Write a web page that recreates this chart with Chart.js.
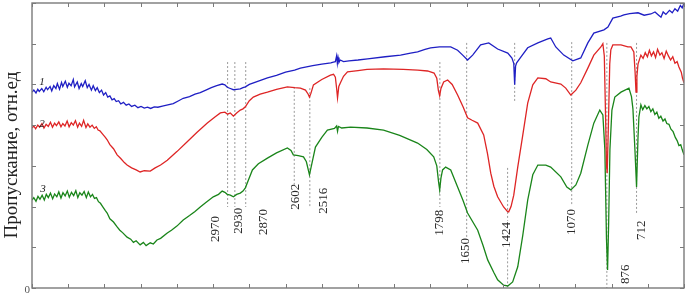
<!DOCTYPE html>
<html>
<head>
<meta charset="utf-8">
<script src="https://cdn.jsdelivr.net/npm/chart.js@4.4.1/dist/chart.umd.min.js"></script>
<style>
  html, body { margin: 0; padding: 0; background: #fff; }
  #wrap { width: 687px; height: 294px; position: relative; }
</style>
</head>
<body>
<div id="wrap"><canvas id="ir"></canvas></div>
<script>
// wavenumber (cm-1) vs transmittance (rel. units)
const curve1 = [[4050,4.81],[4040,4.86],[4028,4.79],[4018,4.88],[4010,4.83],[3996,4.90],[3985,4.82],[3972,4.93],[3964,4.87],[3950,4.95],[3941,4.84],[3930,4.97],[3918,4.90],[3910,5.02],[3898,4.88],[3887,5.05],[3880,4.95],[3866,5.08],[3855,4.93],[3846,5.03],[3834,4.97],[3822,5.12],[3815,4.94],[3800,5.06],[3790,4.90],[3778,5.02],[3770,4.95],[3756,5.09],[3745,4.92],[3735,5.00],[3722,4.86],[3712,4.97],[3700,4.85],[3690,4.92],[3678,4.80],[3666,4.86],[3655,4.74],[3643,4.80],[3632,4.69],[3620,4.72],[3608,4.62],[3596,4.65],[3585,4.58],[3572,4.60],[3560,4.52],[3545,4.56],[3530,4.49],[3515,4.52],[3500,4.46],[3482,4.49],[3465,4.43],[3448,4.46],[3430,4.42],[3412,4.44],[3395,4.41],[3375,4.45],[3355,4.44],[3330,4.47],[3300,4.50],[3270,4.53],[3240,4.60],[3215,4.66],[3180,4.70],[3150,4.76],[3121,4.80],[3090,4.86],[3060,4.92],[3030,4.97],[3000,5.01],[2985,4.99],[2972,4.93],[2955,4.90],[2938,4.87],[2920,4.88],[2900,4.89],[2885,4.92],[2872,4.94],[2850,5.00],[2800,5.08],[2750,5.16],[2700,5.22],[2650,5.30],[2600,5.35],[2568,5.40],[2500,5.46],[2450,5.50],[2400,5.53],[2386,5.55],[2375,5.56],[2368,5.70],[2364,5.52],[2360,5.66],[2355,5.54],[2348,5.60],[2330,5.56],[2300,5.58],[2250,5.60],[2197,5.63],[2100,5.68],[2015,5.72],[1960,5.77],[1921,5.80],[1880,5.86],[1849,5.90],[1800,5.92],[1738,5.92],[1700,5.84],[1672,5.72],[1645,5.60],[1617,5.72],[1573,5.97],[1528,6.02],[1479,5.87],[1423,5.77],[1400,5.65],[1390,5.52],[1385,4.99],[1380,5.45],[1374,5.53],[1351,5.67],[1313,5.90],[1257,6.02],[1202,6.12],[1186,6.14],[1158,5.92],[1114,5.72],[1064,5.58],[1020,5.65],[981,6.02],[948,6.26],[892,6.34],[870,6.41],[843,6.63],[800,6.68],[782,6.71],[750,6.74],[704,6.76],[670,6.70],[633,6.73],[610,6.78],[590,6.70],[577,6.65],[565,6.78],[550,6.72],[530,6.82],[515,6.76],[500,6.86],[485,6.80],[470,6.94],[460,6.88],[450,7.0]];

const curve2 = [[4050,3.93],[4040,3.98],[4030,3.91],[4018,4.00],[4008,3.95],[3995,4.04],[3984,3.93],[3972,4.02],[3960,3.97],[3948,4.07],[3937,3.95],[3925,4.05],[3915,3.99],[3902,4.08],[3890,3.96],[3880,4.04],[3868,3.98],[3856,4.10],[3845,3.96],[3833,4.06],[3822,4.00],[3810,4.11],[3798,3.95],[3788,4.05],[3776,3.97],[3765,4.12],[3752,3.94],[3742,4.03],[3730,3.95],[3718,4.00],[3706,3.92],[3695,3.96],[3685,3.88],[3675,3.86],[3660,3.78],[3645,3.70],[3635,3.64],[3620,3.52],[3600,3.42],[3580,3.27],[3560,3.18],[3540,3.08],[3525,3.02],[3500,2.95],[3475,2.90],[3453,2.85],[3430,2.88],[3397,2.87],[3370,2.95],[3340,3.02],[3303,3.14],[3250,3.35],[3193,3.59],[3140,3.82],[3082,4.05],[3040,4.20],[3010,4.30],[2985,4.32],[2970,4.27],[2955,4.30],[2938,4.22],[2920,4.30],[2900,4.37],[2885,4.40],[2872,4.45],[2850,4.60],[2828,4.69],[2790,4.76],[2750,4.81],[2700,4.88],[2640,4.94],[2600,4.92],[2568,4.91],[2540,4.86],[2525,4.76],[2518,4.69],[2510,4.78],[2496,4.99],[2450,5.12],[2402,5.23],[2385,5.25],[2375,5.18],[2368,4.90],[2363,4.67],[2356,4.95],[2347,5.04],[2330,5.20],[2308,5.31],[2250,5.34],[2200,5.37],[2109,5.38],[2000,5.37],[1920,5.35],[1866,5.33],[1830,5.28],[1815,5.15],[1806,4.85],[1799,4.72],[1792,4.90],[1777,5.06],[1755,5.11],[1730,5.00],[1700,4.74],[1670,4.45],[1645,4.18],[1620,4.12],[1589,4.05],[1556,3.76],[1535,3.30],[1517,2.82],[1500,2.50],[1479,2.24],[1446,1.99],[1425,1.88],[1418,1.87],[1405,2.00],[1390,2.28],[1368,2.97],[1340,3.76],[1313,4.54],[1285,4.99],[1257,5.16],[1213,5.14],[1186,5.06],[1130,5.01],[1103,4.91],[1075,4.74],[1047,4.86],[1020,5.04],[981,5.40],[948,5.72],[909,5.92],[898,6.00],[890,5.70],[883,4.20],[878,3.02],[874,2.82],[868,3.90],[860,5.50],[854,5.85],[843,5.97],[798,5.97],[760,5.92],[743,5.92],[727,5.80],[720,5.30],[715,4.81],[710,5.20],[704,5.50],[688,5.72],[676,5.64],[664,5.78],[652,5.68],[641,5.84],[630,5.70],[618,5.80],[607,5.66],[596,5.86],[583,5.72],[572,5.78],[560,5.64],[548,5.82],[536,5.70],[524,5.60],[512,5.68],[500,5.52],[488,5.56],[478,5.43],[465,5.30],[458,5.15],[450,5.04]];

const curve3 = [[4050,2.16],[4040,2.22],[4028,2.13],[4017,2.25],[4006,2.18],[3994,2.28],[3982,2.16],[3971,2.30],[3960,2.22],[3948,2.33],[3936,2.19],[3925,2.31],[3913,2.24],[3902,2.36],[3890,2.21],[3879,2.34],[3867,2.26],[3855,2.38],[3844,2.23],[3832,2.35],[3820,2.27],[3808,2.39],[3797,2.22],[3786,2.34],[3774,2.28],[3762,2.37],[3750,2.22],[3739,2.36],[3727,2.24],[3716,2.30],[3705,2.20],[3694,2.22],[3683,2.12],[3672,2.08],[3660,2.00],[3645,1.90],[3635,1.84],[3620,1.70],[3600,1.62],[3580,1.50],[3565,1.42],[3550,1.36],[3525,1.25],[3505,1.20],[3490,1.12],[3475,1.16],[3453,1.06],[3435,1.12],[3420,1.04],[3397,1.11],[3380,1.08],[3360,1.18],[3340,1.22],[3303,1.35],[3280,1.42],[3250,1.52],[3215,1.67],[3180,1.78],[3150,1.88],[3121,1.99],[3090,2.10],[3049,2.24],[3020,2.30],[3000,2.38],[2985,2.35],[2972,2.30],[2955,2.28],[2938,2.24],[2920,2.30],[2900,2.33],[2885,2.38],[2872,2.46],[2855,2.65],[2833,2.90],[2800,3.05],[2750,3.19],[2700,3.32],[2640,3.44],[2620,3.38],[2607,3.27],[2580,3.25],[2551,3.22],[2535,3.10],[2518,2.78],[2505,3.05],[2485,3.46],[2450,3.70],[2419,3.88],[2380,3.92],[2368,3.98],[2363,3.85],[2358,3.97],[2340,3.93],[2291,3.95],[2200,3.93],[2109,3.88],[2020,3.75],[1921,3.56],[1870,3.40],[1832,3.22],[1815,3.00],[1805,2.60],[1799,2.41],[1792,2.70],[1783,2.90],[1766,2.97],[1738,2.90],[1700,2.48],[1670,2.15],[1645,1.84],[1589,1.42],[1560,1.05],[1534,0.69],[1500,0.38],[1479,0.20],[1446,0.07],[1423,0.05],[1396,0.15],[1368,0.52],[1340,1.30],[1313,2.16],[1285,2.78],[1257,3.02],[1213,3.02],[1186,2.97],[1130,2.73],[1097,2.48],[1075,2.41],[1047,2.53],[1020,2.82],[981,3.51],[948,4.05],[915,4.37],[898,4.25],[887,3.40],[878,1.20],[872,0.44],[866,1.60],[859,3.40],[848,4.37],[832,4.69],[798,4.81],[754,4.91],[740,4.70],[732,4.40],[721,3.40],[712,2.48],[704,3.70],[699,4.20],[688,4.50],[678,4.38],[666,4.48],[655,4.40],[644,4.46],[633,4.33],[622,4.40],[611,4.26],[600,4.32],[589,4.17],[578,4.22],[566,4.10],[555,4.15],[545,4.04],[533,4.02],[522,3.90],[510,3.84],[498,3.70],[488,3.62],[478,3.50],[468,3.52],[460,3.40],[450,3.27]];

// dotted band markers: [wavenumber, from, to]
const bandLines = [[2970,5.55,1.99],[2930,5.55,1.99],[2870,5.55,1.99],[2602,4.94,2.53],[2516,4.91,1.99],[1798,5.55,1.99],[1650,6.02,1.25],[1385,6.02,4.57],[1424,2.95,1.65],[1424,0.95,0],[1070,6.04,2.04],[876,6.02,0],[712,6.02,1.84]];

// band labels: [text, wavenumber, transmittance]
const bandLabels = [['2970',3038,1.45],['2930',2911,1.65],['2870',2773,1.62],['2602',2596,2.24],['2516',2441,2.14],['1798',1799,1.60],['1650',1656,0.91],['1424',1429,1.30],['1070',1069,1.62],['876',771,0.34],['712',682,1.42]];

const curveNames = [['1',3995,5.06],['2',3995,4.03],['3',3989,2.43]];

const xTicks = [4050,3850,3650,3450,3250,3050,2850,2650,2450,2250,2050,1850,1650,1450,1250,1050,850,650,450];
const yTicks = [0,1,2,3,4,5,6,7];
const yTickLabels = ['0','','','','','','',''];

const datasets = [
  { data: curve1, borderColor: '#1f1fc4' },
  { data: curve2, borderColor: '#de2525' },
  { data: curve3, borderColor: '#1a851a' }
].map(d => Object.assign(d, { borderWidth: 1.3, pointRadius: 0, tension: 0 }));

bandLines.forEach(b => {
  datasets.push({
    data: [[b[0], b[1]], [b[0], b[2]]],
    borderColor: '#9a9a9a', borderWidth: 1, borderDash: [2, 2],
    pointRadius: 0
  });
});

const frame = {
  id: 'frame',
  afterDraw(chart) {
    const { ctx, chartArea: a, scales: { x, y } } = chart;
    ctx.save();
    ctx.strokeStyle = '#7a7a7a';
    ctx.lineWidth = 1.4;
    ctx.strokeRect(a.left, a.top, a.right - a.left, a.bottom - a.top);
    ctx.lineWidth = 1;
    ctx.beginPath();
    xTicks.forEach(v => {
      const px = Math.round(x.getPixelForValue(v)) + 0.5;
      ctx.moveTo(px, a.bottom); ctx.lineTo(px, a.bottom - 4);
      ctx.moveTo(px, a.top); ctx.lineTo(px, a.top + 4);
    });
    yTicks.forEach(v => {
      const py = Math.round(y.getPixelForValue(v)) + 0.5;
      ctx.moveTo(a.left, py); ctx.lineTo(a.left + 4, py);
      ctx.moveTo(a.right, py); ctx.lineTo(a.right - 4, py);
    });
    ctx.stroke();

    ctx.fillStyle = '#555';
    ctx.font = '11px "Liberation Serif"';
    ctx.textAlign = 'right';
    ctx.textBaseline = 'middle';
    yTicks.forEach((v, i) => {
      if (yTickLabels[i]) ctx.fillText(yTickLabels[i], a.left - 2, y.getPixelForValue(v) + 2);
    });

    // band labels, rotated
    ctx.fillStyle = '#2a2a2a';
    ctx.font = '13px "Liberation Serif"';
    ctx.textAlign = 'center';
    bandLabels.forEach(l => {
      ctx.save();
      ctx.translate(x.getPixelForValue(l[1]), y.getPixelForValue(l[2]));
      ctx.rotate(-Math.PI / 2);
      ctx.fillText(l[0], 0, 0);
      ctx.restore();
    });

    ctx.font = 'italic 11px "Liberation Serif"';
    ctx.fillStyle = '#222';
    curveNames.forEach(c => ctx.fillText(c[0], x.getPixelForValue(c[1]), y.getPixelForValue(c[2])));

    // axis title
    ctx.save();
    ctx.translate(12, 155);
    ctx.rotate(-Math.PI / 2);
    ctx.font = '19px "Liberation Serif"';
    ctx.fillStyle = '#222';
    ctx.fillText('Пропускание, отн.ед', 0, 0);
    ctx.restore();
    ctx.restore();
  }
};

new Chart(document.getElementById('ir'), {
  type: 'line',
  data: { datasets },
  options: {
    responsive: true,
    maintainAspectRatio: false,
    animation: false,
    layout: { padding: { left: 32, top: 3, right: 3, bottom: 6 } },
    plugins: { legend: { display: false }, tooltip: { enabled: false } },
    scales: {
      x: { type: 'linear', reverse: true, min: 450, max: 4050, display: false },
      y: { type: 'linear', min: 0, max: 7, display: false }
    }
  },
  plugins: [frame]
});
</script>
</body>
</html>
